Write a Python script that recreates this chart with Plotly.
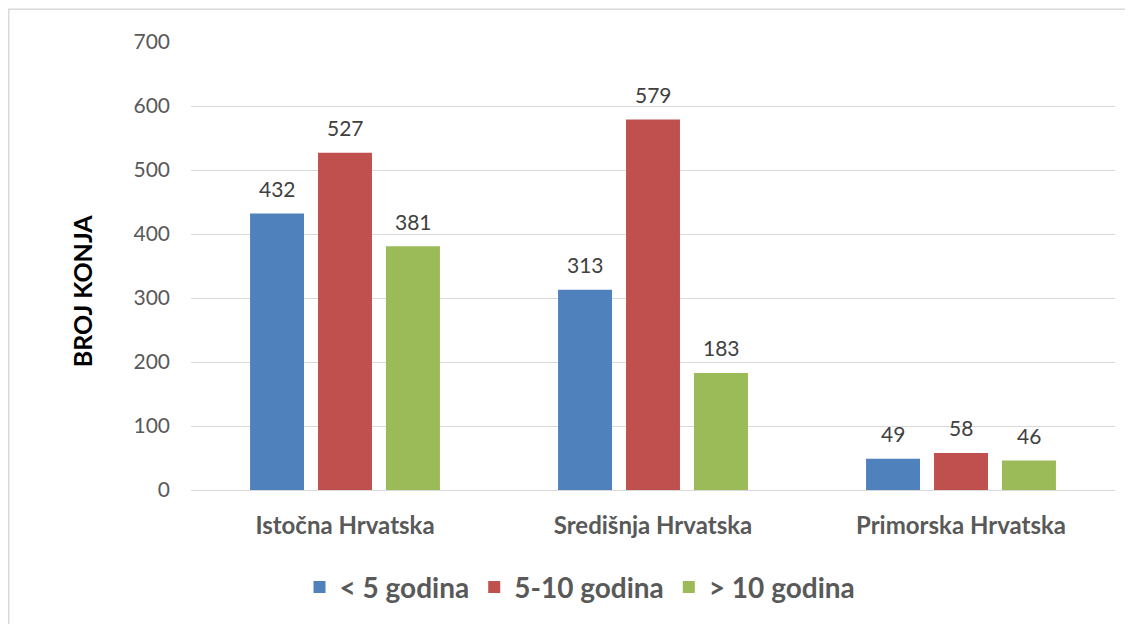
import plotly.graph_objects as go

categories = ["Istočna Hrvatska", "Središnja Hrvatska", "Primorska Hrvatska"]
series_names = ["< 5 godina", "5-10 godina", "> 10 godina"]
under5 = [432, 313, 49]
from5to10 = [527, 579, 58]
over10 = [381, 183, 46]
colors = ["#4F81BD", "#C0504D", "#9BBB59"]
y_ticks = [0, 100, 200, 300, 400, 500, 600, 700]

OFF = 8  # page body margin
W, H = 1133 - OFF, 624 - OFF
L, R, T, B = 191 - OFF, 1115 - OFF, 42 - OFF, 493 - OFF

def px_x(px):
    return (px - OFF - L) / (R - L)

def px_y(py):
    return (B - (py - OFF)) / (B - T)

font_family = "Lato, 'Open Sans', sans-serif"
bar_step_px = 68

fig = go.Figure()
annotations = []
for i, (name, vals, col) in enumerate(zip(series_names, [under5, from5to10, over10], colors)):
    fig.add_trace(go.Bar(
        x=categories, y=vals, name=name,
        marker=dict(color=col, line=dict(width=0)),
    ))
    for c, v in zip(categories, vals):
        annotations.append(dict(
            x=c, y=v, xref="x", yref="y", text=str(v), showarrow=False,
            xshift=(i - 1) * bar_step_px, yshift=25, yanchor="middle",
            font=dict(size=21, color="#404040", family=font_family)))

annotations.append(dict(text="<b>BROJ KONJA</b>", textangle=-90, xref="paper", yref="paper",
                        x=px_x(82), y=px_y(293), xanchor="center", yanchor="middle",
                        showarrow=False,
                        font=dict(size=25, color="black", family=font_family)))

fig.update_layout(
    width=W, height=H,
    margin=dict(l=L, r=W - R, t=T, b=H - B),
    paper_bgcolor="white", plot_bgcolor="white",
    barmode="group", bargap=0.338, bargroupgap=0.206,
    font=dict(family=font_family, color="#595959"),
    showlegend=True,
    legend=dict(orientation="h", x=px_x(580), xanchor="center",
                y=px_y(591), yanchor="middle",
                font=dict(size=28, color="#595959", family=font_family, weight="bold"),
                itemsizing="constant", traceorder="normal", itemwidth=30),
    xaxis=dict(showgrid=False, showline=True, linecolor="#d9d9d9", linewidth=1,
               ticks="", tickfont=dict(size=24, color="#595959", weight="bold"),
               ticklabelstandoff=14),
    yaxis=dict(range=[0, 700], tickvals=y_ticks, showgrid=True, gridcolor="#d9d9d9",
               gridwidth=1, zeroline=False, showline=False, ticks="",
               tickfont=dict(size=21, color="#595959"), ticklabelstandoff=20),
    annotations=annotations,
    shapes=[
        dict(type="line", xref="paper", yref="paper", x0=px_x(7), x1=px_x(1140),
             y0=px_y(9), y1=px_y(9), line=dict(color="#d9d9d9", width=1.5)),
        dict(type="line", xref="paper", yref="paper", x0=px_x(8.75), x1=px_x(8.75),
             y0=px_y(9), y1=px_y(630), line=dict(color="#d9d9d9", width=1.5)),
    ],
)

fig.write_html("out.html")
